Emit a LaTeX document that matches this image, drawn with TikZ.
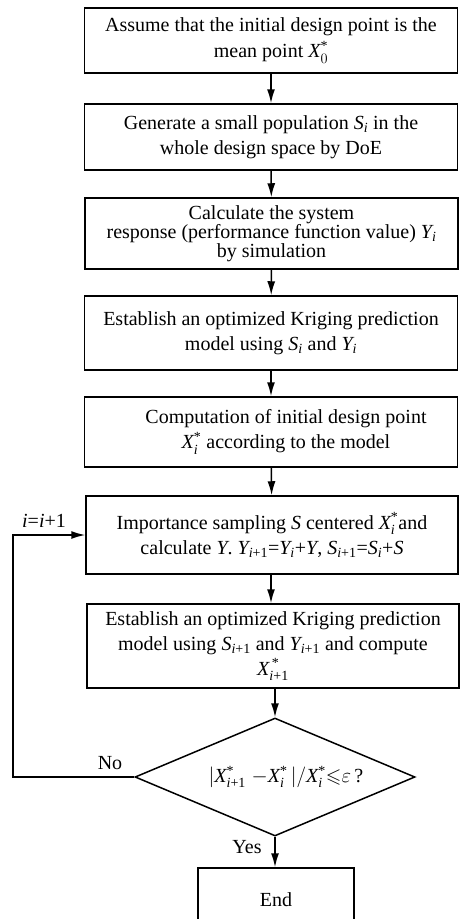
\documentclass[tikz,border=0pt]{standalone}
\usepackage{amsmath,amssymb}
\usepackage{fontspec}
\setmainfont{Liberation Serif}
\usetikzlibrary{arrows.meta,shapes.geometric}
\newcommand{\vv}[1]{\textit{#1}}
\newcommand{\st}{\text{*}}
\begin{document}
\begin{tikzpicture}[x=1pt,y=-1pt,
  txt/.style={font=\fontsize{20}{25}\selectfont},
  box/.style={draw, line width=1.5pt, minimum width=373pt, inner sep=0pt, align=center, txt},
  arr/.style={line width=1.5pt, -{Latex[length=14pt,width=8pt]}},
  link/.style={line width=1.5pt}]
\useasboundingbox (0,0) rectangle (462,919);
\clip (0,0) rectangle (462,919);
\node[box, minimum height=65pt] (b1) at (271,40.5) {Assume that the initial design point is the\\[1pt] mean point $\vv{X}^{\st}_{0}$};
\node[box, minimum height=66pt] (b2) at (271,137) {Generate a small population $\vv{S}_{\vv{i}}$ in the\\ whole design space by DoE};
\node[box, minimum height=71pt, font=\fontsize{20}{19}\selectfont] (b3) at (271.5,233.5) {Calculate the system\\ response (performance function value) $\vv{Y}_{\vv{i}}$\\ by simulation};
\node[box, minimum height=74pt] (b4) at (271,333) {Establish an optimized Kriging prediction\\ model using $\vv{S}_{\vv{i}}$ and $\vv{Y}_{\vv{i}}$};
\node[box, minimum height=70pt] (b5) at (271,432) {\hspace*{30pt}Computation of initial design point\\ \hspace*{30pt}$\vv{X}^{\st}_{\vv{i}}$ according to the model};
\node[box, minimum height=78pt, minimum width=372pt] (b6) at (272,535) {Importance sampling \vv{S} centered $\vv{X}^{\st}_{\vv{i}}$and\\ calculate \vv{Y}. $\vv{Y}_{\vv{i}\text{+1}}$=$\vv{Y}_{\vv{i}}$+\vv{Y}, $\vv{S}_{\vv{i}\text{+1}}$=$\vv{S}_{\vv{i}}$+\vv{S}};
\node[box, minimum height=84pt, minimum width=372pt] (b7) at (273,646) {Establish an optimized Kriging prediction\\ model using $\vv{S}_{\vv{i}\text{+1}}$ and $\vv{Y}_{\vv{i}\text{+1}}$ and compute\\ $\vv{X}_{\vv{i}\text{+1}}^{\,\st}$};
\node[draw, diamond, line width=1.5pt, minimum width=280pt, minimum height=118pt, inner sep=0pt] (dec) at (275,777) {};
\node[txt] (dect) at (286,777) {$|\vv{X}^{\st}_{\vv{i}\text{+1}}\;\mathord{-}\vv{X}^{\st}_{\vv{i}}\,|/\vv{X}^{\st}_{\vv{i}}\mathord{\leqslant}\varepsilon\,$?};
\node[box, minimum width=156pt, minimum height=64pt] (end) at (276,900) {End};
\coordinate (lp) at (13,777);
\draw[arr] (b1) -- (b2);
\draw[arr] (b2) -- (b3);
\draw[arr] (b3) -- (b4);
\draw[arr] (b4) -- (b5);
\draw[arr] (b5) -- (b6);
\draw[arr] (b6.south -| b5.south) -- (b7.north -| b5.south);
\draw[arr] (b7.south -| dec.north) -- (dec.north);
\draw[arr] (dec.south) -- (end.north -| dec.south);
\draw[arr] (dec.west) -- (lp) |- (b6.west);
\node[txt] (lbi) at (44,521) {\vv{i}=\vv{i}+1};
\node[txt] (lbno) at (110,763) {No};
\node[txt] (lbyes) at (247,847) {Yes};
\end{tikzpicture}
\end{document}
